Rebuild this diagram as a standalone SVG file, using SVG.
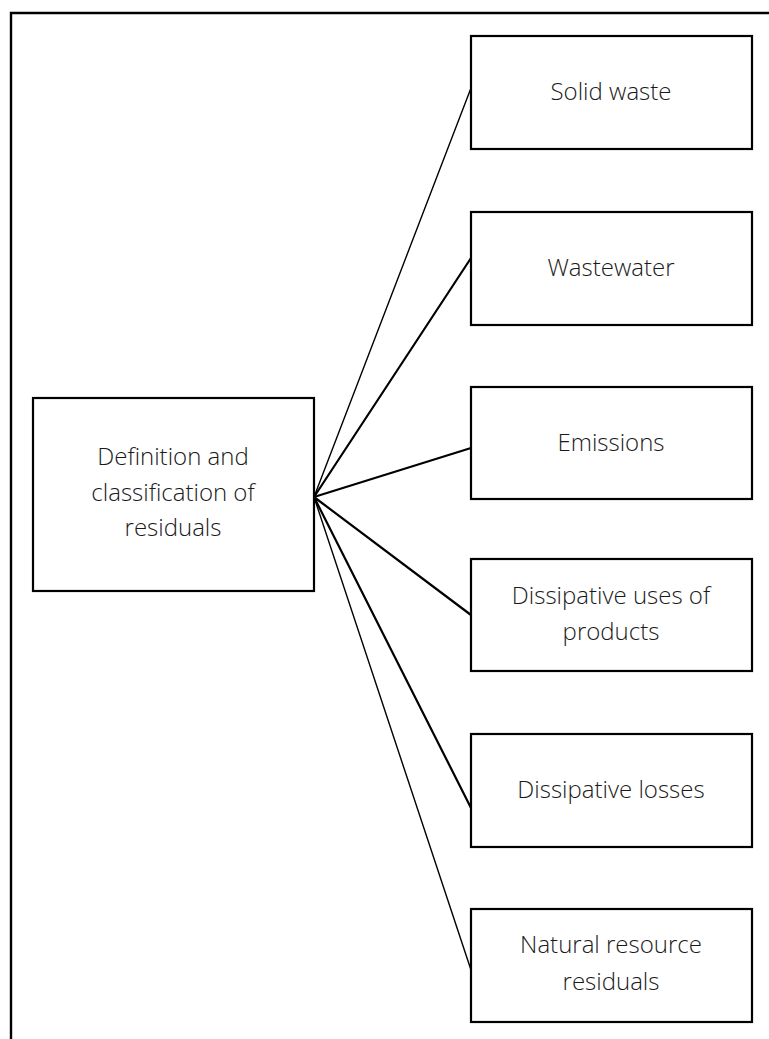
<svg xmlns="http://www.w3.org/2000/svg" width="769" height="1039" viewBox="0 0 769 1039">
  <style>
    .box { fill: #ffffff; stroke: #000000; stroke-width: 2.2; }
    .frame { fill: none; stroke: #000000; stroke-width: 2.4; }
    .link { fill: none; stroke: #000000; stroke-linecap: round; }
    .thin { stroke-width: 1.4; }
    .thick { stroke-width: 2.2; }
    .label { font-family: "Open Sans", "Liberation Sans", sans-serif; font-weight: 300; font-size: 24px; fill: #1a1a1a; text-anchor: middle; }
  </style>
  <rect width="769" height="1039" fill="#ffffff"/>

  <!-- page frame: top and left rule -->
  <path class="frame" d="M11,1039 V13 H769"/>

  <!-- connectors fanning out from the root node -->
  <g id="connectors">
    <line class="link thin"  x1="314" y1="497" x2="471" y2="88"/>
    <line class="link thick" x1="314" y1="497" x2="471" y2="258"/>
    <line class="link thick" x1="314" y1="497" x2="471" y2="448"/>
    <line class="link thick" x1="314" y1="497" x2="471" y2="615"/>
    <line class="link thick" x1="314" y1="497" x2="471" y2="808"/>
    <line class="link thin"  x1="314" y1="497" x2="471" y2="970"/>
  </g>

  <g id="root">
    <rect class="box" x="33" y="398" width="281" height="193"/>
    <text class="label" x="173" y="465">Definition and</text>
    <text class="label" x="173" y="501">classification of</text>
    <text class="label" x="173" y="536">residuals</text>
  </g>

  <g id="solid-waste">
    <rect class="box" x="471" y="36" width="281" height="113"/>
    <text class="label" x="611" y="100">Solid waste</text>
  </g>

  <g id="wastewater">
    <rect class="box" x="471" y="212" width="281" height="113"/>
    <text class="label" x="611" y="276">Wastewater</text>
  </g>

  <g id="emissions">
    <rect class="box" x="471" y="387" width="281" height="112"/>
    <text class="label" x="611" y="451">Emissions</text>
  </g>

  <g id="dissipative-uses">
    <rect class="box" x="471" y="559" width="281" height="112"/>
    <text class="label" x="611" y="604">Dissipative uses of</text>
    <text class="label" x="611" y="640">products</text>
  </g>

  <g id="dissipative-losses">
    <rect class="box" x="471" y="734" width="281" height="113"/>
    <text class="label" x="611" y="798">Dissipative losses</text>
  </g>

  <g id="natural-resource-residuals">
    <rect class="box" x="471" y="909" width="281" height="113"/>
    <text class="label" x="611" y="953">Natural resource</text>
    <text class="label" x="611" y="990">residuals</text>
  </g>
</svg>
